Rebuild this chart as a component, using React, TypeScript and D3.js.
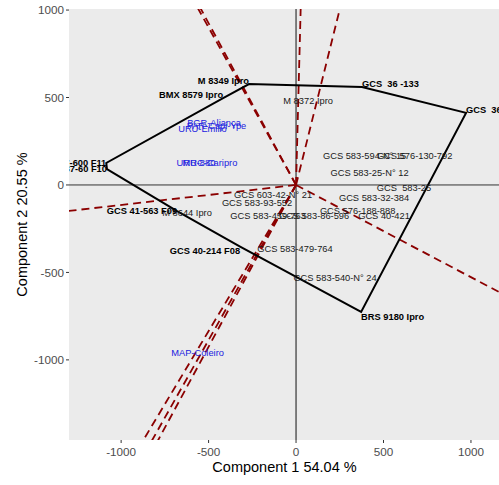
import React from "react";
import * as d3 from "d3";

// Hull (vertex) genotypes, in polygon order
const hullNames = ["GCS 587-60 F10", "GCS 41-563 F09", "GCS 40-214 F08", "BRS 9180 Ipro", "GCS  36-140", "GCS  36 -133", "M 8349 Ipro", "BMX 8579 Ipro", "GCS 587-600 F11"];
const hullX = [-1081, -680, -320, 372, 972, 377, -269, -417, -1085];
const hullY = [91, -149, -352, -726, 412, 560, 577, 497, 126];

// Other genotypes
const genoNames = ["M 8372 Ipro", "GCS 583-594-N° 15", "GCS 576-130-792", "GCS 583-25-N° 12", "GCS  583-25", "GCS 583-32-384", "GCS 603-42-N° 21", "GCS 583-93-552", "GCS 583-459-763", "GCS 583-86-596", "GCS 576-188-888", "GCS 40-421", "GCS 583-479-764", "GCS 583-540-N° 24", "M 8644 Ipro"];
const genoX = [69, 392, 678, 420, 617, 446, -131, -223, -160, 103, 352, 503, -6, 223, -623];
const genoY = [480, 166, 166, 69, -17, -74, -57, -103, -177, -177, -149, -177, -366, -532, -160];

// Environments
const envNames = ["BGR-Aliança", "URU-Emilio", "PAR-Capi-Ype", "URU-880", "MRC-Caripro", "MAP-Coleiro"];
const envX = [-469, -535, -455, -572, -492, -563];
const envY = [354, 320, 337, 126, 126, -961];

const xTicks = [-1000, -500, 0, 500, 1000];
const yTicks = [1000, 500, 0, -500, -1000];
const xTitle = "Component 1 54.04 %";
const yTitle = "Component 2 20.55 %";

const W = 499, H = 485;
const P = { l: 69, r: 500, t: 9, b: 440 };
const FONT = "'Liberation Sans', Arial, Helvetica, sans-serif";

export default function App() {
  const x = d3.scaleLinear().domain([-1298, 1166]).range([P.l, P.r]);
  const y = d3.scaleLinear().domain([-1458, 1006]).range([P.b, P.t]);

  const hullPts: [number, number][] = hullX.map((v, i) => [v, hullY[i]]);
  const line = d3.line<[number, number]>().x(d => x(d[0])).y(d => y(d[1])).curve(d3.curveLinearClosed);

  // Perpendicular rays from origin to each hull edge
  const rays = hullPts.map((p1, i) => {
    const p2 = hullPts[(i + 1) % hullPts.length];
    const dx = p2[0] - p1[0], dy = p2[1] - p1[1];
    let nx = dy, ny = -dx;
    const mx = (p1[0] + p2[0]) / 2, my = (p1[1] + p2[1]) / 2;
    if (nx * mx + ny * my < 0) { nx = -nx; ny = -ny; }
    const len = Math.hypot(nx, ny);
    const L = 5000;
    return [0, 0, (nx / len) * L, (ny / len) * L];
  });

  const vAnchor = (v: number) => (v < 0 ? "end" : "start");
  const vDy = (v: number) => (Math.abs(v) < 200 ? "0.35em" : v < 0 ? "0.85em" : "0em");

  return (
    <svg width={W} height={H} style={{ position: "absolute", left: 0, top: 0, background: "#fff" }} fontFamily={FONT}>
      <defs>
        <clipPath id="panel">
          <rect x={P.l} y={P.t} width={P.r - P.l} height={P.b - P.t} />
        </clipPath>
      </defs>
      <rect x={P.l} y={P.t} width={P.r - P.l} height={P.b - P.t} fill="#EBEBEB" />
      <g clipPath="url(#panel)">
        <line x1={P.l} x2={P.r} y1={y(0)} y2={y(0)} stroke="#333" strokeWidth={1} />
        <line x1={x(0)} x2={x(0)} y1={P.t} y2={P.b} stroke="#111" strokeWidth={1} />
        {rays.map((r, i) => (
          <line key={i} x1={x(r[0])} y1={y(r[1])} x2={x(r[2])} y2={y(r[3])} stroke="#8B0000" strokeWidth={1.8} strokeDasharray="8,5" />
        ))}
        <path d={line(hullPts) || ""} fill="none" stroke="#000" strokeWidth={2} />
        {genoNames.map((n, i) => (
          <text key={n} x={x(genoX[i])} y={y(genoY[i])} dy="0.35em" textAnchor="middle" fontSize={9.3} fill="#1a1a1a" style={{ whiteSpace: "pre" }}>{n}</text>
        ))}
        {hullNames.map((n, i) => (
          <text key={n} x={x(hullX[i])} y={y(hullY[i])} dy={vDy(hullY[i])} textAnchor={vAnchor(hullX[i])} fontSize={9.3} fontWeight="bold" fill="#000" style={{ whiteSpace: "pre" }}>{n}</text>
        ))}
        {envNames.map((n, i) => (
          <text key={n} x={x(envX[i])} y={y(envY[i])} dy="0.35em" textAnchor="middle" fontSize={9.3} fill="#2020e0">{n}</text>
        ))}
      </g>
      {xTicks.map(t => (
        <g key={t}>
          <line x1={x(t)} x2={x(t)} y1={P.b} y2={P.b + 3} stroke="#333" />
          <text x={x(t)} y={P.b + 16} textAnchor="middle" fontSize={11.7} fill="#4d4d4d">{t}</text>
        </g>
      ))}
      {yTicks.map(t => (
        <g key={t}>
          <line x1={P.l - 3} x2={P.l} y1={y(t)} y2={y(t)} stroke="#333" />
          <text x={P.l - 5} y={y(t)} dy="0.35em" textAnchor="end" fontSize={11.7} fill="#4d4d4d">{t}</text>
        </g>
      ))}
      <text x={(P.l + P.r) / 2} y={472} textAnchor="middle" fontSize={14.5} fill="#000">{xTitle}</text>
      <text transform={`translate(27,${(P.t + P.b) / 2}) rotate(-90)`} textAnchor="middle" fontSize={14.5} fill="#000">{yTitle}</text>
    </svg>
  );
}
